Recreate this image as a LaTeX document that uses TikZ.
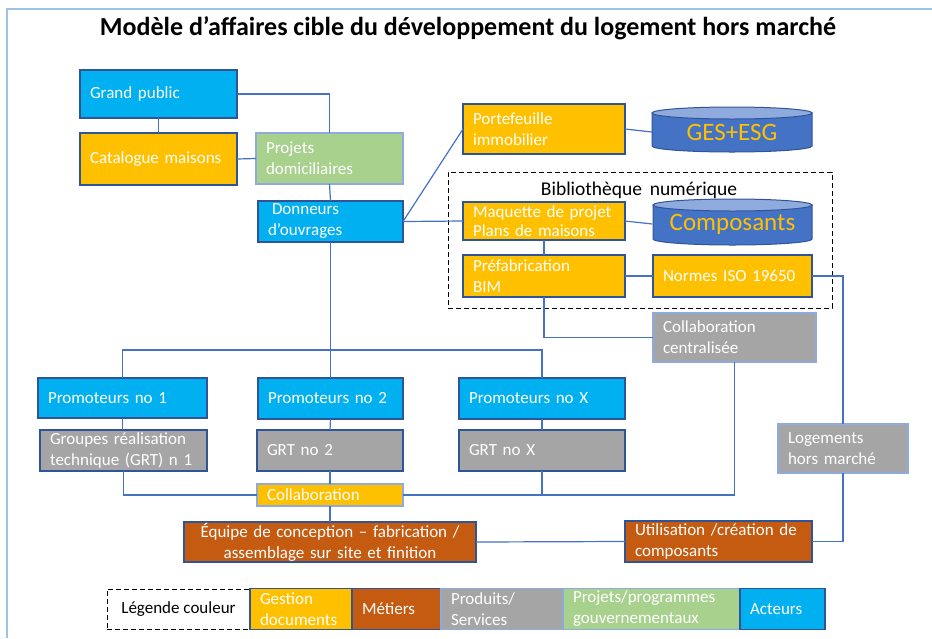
\documentclass[tikz,border=0pt]{standalone}
\usepackage{fontspec}
\setmainfont{Carlito}
\usetikzlibrary{positioning}
\definecolor{blu}{HTML}{00B0F0}
\definecolor{yel}{HTML}{FFC000}
\definecolor{grn}{HTML}{A9D18E}
\definecolor{gry}{HTML}{A5A5A5}
\definecolor{brn}{HTML}{C55A11}
\definecolor{cyl}{HTML}{4472C4}
\definecolor{cyltop}{HTML}{8FAADC}
\definecolor{dkedge}{HTML}{2F5597}
\definecolor{ltedge}{HTML}{8FAADC}
\definecolor{linec}{HTML}{4472C4}
\definecolor{framec}{HTML}{9DC3E6}
\begin{document}
\begin{tikzpicture}[x=1pt,y=-1pt,
  box/.style={draw=dkedge,line width=1.3pt,rectangle,inner xsep=10pt,inner ysep=1pt,outer sep=0pt,
    align=left,text=white,font=\fontsize{17}{21}\selectfont},
  wh/.style 2 args={text width=#1,minimum height=#2},
  blubox/.style={box,fill=blu},
  yelbox/.style={box,fill=yel},
  grnbox/.style={box,fill=grn,draw=ltedge},
  grybox/.style={box,fill=gry},
  grylt/.style={box,fill=gry,draw=ltedge},
  brnbox/.style={box,fill=brn},
  dashbox/.style={draw,line width=1pt,dash pattern=on 5pt off 3pt,outer sep=0pt},
  cyltext/.style={text=yel,font=\fontsize{25}{28}\selectfont,minimum width=160pt,minimum height=45pt},
  link/.style={draw=linec,line width=1.2pt}]
  \useasboundingbox (0,0) rectangle (932,638);
  \draw[framec,line width=2pt] (7,638) -- (7,9) -- (932,9);
  \node (title) at (468,28) {\fontsize{26}{29}\selectfont\bfseries Modèle d’affaires cible du développement du logement hors marché};
  \node[dashbox,minimum width=384pt,minimum height=136pt] (lib) at (640,240) {};
  \node[font=\fontsize{19.5}{22}\selectfont] (libt) at (639,190) {Bibliothèque\, numérique};
  \node[blubox,wh={137pt}{48pt}] (gp) at (158.5,94) {Grand public};
  \node[yelbox,wh={137pt}{52pt}] (cat) at (158.5,159) {Catalogue maisons};
  \node[grnbox,wh={127pt}{51pt}] (pd) at (329.5,158.5) {Projets\\domiciliaires};
  \node[blubox,wh={125pt}{41pt},inner ysep=0pt] (dn) at (330.5,221.5) {\hspace{4pt}Donneurs\\d’ouvrages};
  \node[yelbox,wh={142pt}{50pt}] (pf) at (544,129) {Portefeuille\\immobilier};
  \node[yelbox,wh={142pt}{38pt},inner ysep=0pt,font=\fontsize{17}{19.5}\selectfont] (mq) at (544,221) {Maquette de projet\\Plans de maisons};
  \node[yelbox,wh={142pt}{42pt},inner ysep=0pt] (pr) at (544,276) {Préfabrication\\BIM};
  \node[yelbox,wh={139pt}{42pt}] (nm) at (732.5,276) {Normes ISO 19650};
  \fill[cyl,draw=dkedge,line width=1pt] (652,113) -- (652,146) arc[start angle=180,end angle=0,x radius=80,y radius=6] -- (812,113) -- cycle;
  \draw[fill=cyltop,draw=dkedge,line width=1pt] (732,113) ellipse[x radius=80,y radius=6];
  \node[cyltext] (ges) at (732,132) {GES+ESG};
  \fill[cyl,draw=dkedge,line width=1pt] (653,205) -- (653,239) arc[start angle=180,end angle=0,x radius=79.5,y radius=6] -- (812,205) -- cycle;
  \draw[fill=cyltop,draw=dkedge,line width=1pt] (732.5,205) ellipse[x radius=79.5,y radius=6];
  \node[cyltext,minimum height=46pt] (cp) at (732.5,224) {Composants};
  \node[grylt,wh={143pt}{49pt}] (cc) at (734.5,337.5) {Collaboration\\centralisée};
  \node[blubox,wh={149pt}{40pt}] (p1) at (122.5,398) {Promoteurs no 1};
  \node[grybox,wh={147pt}{41pt},inner ysep=0pt] (g1) at (123.5,450.5) {Groupes réalisation\\technique (GRT) n 1};
  \node[blubox,wh={125pt}{41pt}] (p2) at (330.5,398.5) {Promoteurs no 2};
  \node[grybox,wh={126pt}{41pt}] (g2) at (330,450.5) {GRT no 2};
  \node[yelbox,wh={126pt}{22pt},inner ysep=0pt,draw=ltedge] (co) at (330,495) {Collaboration};
  \node[blubox,wh={146pt}{41pt}] (px) at (542,398.5) {Promoteurs no X};
  \node[grybox,wh={146pt}{41pt}] (gx) at (542,450.5) {GRT no X};
  \node[grylt,wh={110pt}{49pt}] (lg) at (843,448.5) {Logements\\hors marché};
  \node[brnbox,wh={272pt}{40pt},inner ysep=0pt,align=center] (eq) at (330,542) {Équipe de conception -- fabrication /\\assemblage sur site et finition};
  \node[brnbox,wh={167pt}{41pt},inner ysep=0pt] (ut) at (718.5,541.5) {Utilisation /création de\\composants};
  \node[dashbox,minimum width=143pt,minimum height=40pt,font=\fontsize{17}{21}\selectfont] (lgd) at (178.5,609) {Légende couleur};
  \node[yelbox,wh={82pt}{41pt},inner ysep=0pt,right=0pt of lgd] (l1) {Gestion\\documents};
  \node[brnbox,wh={69pt}{41pt},right=0pt of l1] (l2) {Métiers};
  \node[grylt,wh={102pt}{41pt},inner ysep=0pt,right=0pt of l2] (l3) {Produits/\\Services};
  \node[grnbox,wh={157pt}{41pt},inner ysep=0pt,right=0pt of l3] (l4) {Projets/programmes\\gouvernementaux};
  \node[blubox,wh={65pt}{41pt},right=0pt of l4] (l5) {Acteurs};
  \draw[link] (gp.east) -| (pd.north);
  \draw[link] (gp.south) -- (cat.north);
  \draw[link] (cat.east) -- (pd.west);
  \draw[link] (pd.south) -- (dn.north);
  \draw[link] (dn.east) -- (pf.west);
  \draw[link] (dn.east) -- (mq.west);
  \draw[link] (pf.east) -- (ges.west);
  \draw[link] (mq.east) -- (cp.west);
  \draw[link] (mq.south) -- (pr.north);
  \draw[link] (pr.east) -- (nm.west);
  \draw[link] (nm.east) -| (lg.north);
  \draw[link] (pr.south) |- (cc.west);
  \coordinate (split) at (330.5,350);
  \draw[link] (dn.south) -- (split);
  \draw[link] (p1.north) |- (split) -| (px.north);
  \draw[link] (split) -- (p2.north);
  \draw[link] (p1.south) -- (p1.south |- g1.north);
  \draw[link] (p2.south) -- (g2.north);
  \draw[link] (px.south) -- (gx.north);
  \draw[link] (g1.south) |- (co.west);
  \draw[link] (g2.south) -- (co.north);
  \draw[link] (gx.south) |- (co.east);
  \draw[link] (cc.south) |- (co.east);
  \draw[link] (co.south) -- (eq.north);
  \draw[link] (eq.east) -- (ut.west);
  \draw[link] (ut.east) -| (lg.south);
\end{tikzpicture}
\end{document}
